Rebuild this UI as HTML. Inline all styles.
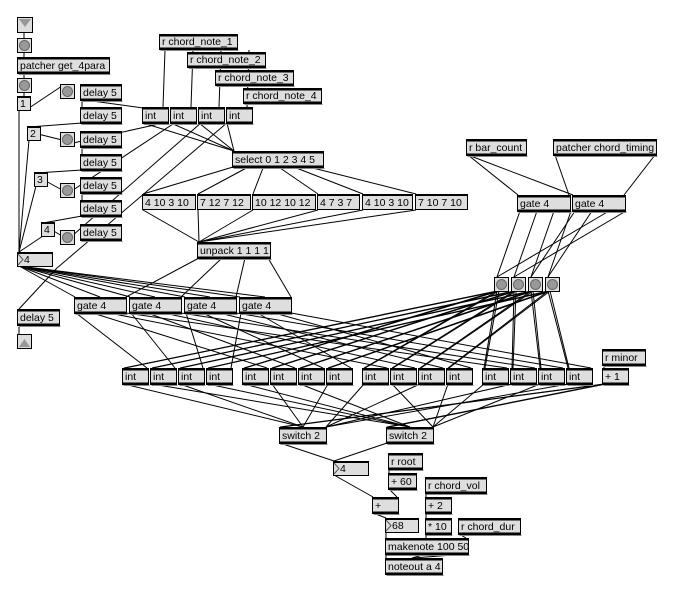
<!DOCTYPE html>
<html><head><meta charset="utf-8">
<style>
html,body{margin:0;padding:0;background:#fff;}
svg{display:block;}
text{font-family:"Liberation Sans",sans-serif;font-size:10.5px;fill:#000;}
.o,.m,.n{fill:#dedede;stroke:#000;stroke-width:1;}
</style></head><body>
<svg id="s" width="673" height="593" viewBox="0 0 673 593" xmlns="http://www.w3.org/2000/svg">
<g id="L" stroke="#000" stroke-width="1" fill="none"></g>
<g id="B">
<rect x="17.5" y="17.5" width="15" height="15" fill="#ddd" stroke="#000"/><path d="M19 19 L31 19 L25 27 Z" fill="#999"/>
<rect class="bt" x="17.5" y="38.5" width="14" height="14"/>
<rect class="o" x="17.5" y="57.5" width="92" height="16"/><text x="20" y="69">patcher get_4para</text>
<rect class="bt" x="17.5" y="78.5" width="14" height="14"/>
<rect class="m" x="17.5" y="96.5" width="13" height="14"/><text x="20" y="107">1</text>
<rect class="m" x="27.5" y="126.5" width="13" height="14"/><text x="30" y="137">2</text>
<rect class="m" x="34.5" y="172.5" width="13" height="14"/><text x="37" y="183">3</text>
<rect class="m" x="41.5" y="222.5" width="13" height="14"/><text x="44" y="233">4</text>
<rect class="bt" x="60.5" y="84.5" width="14" height="14"/>
<rect class="bt" x="60.5" y="132.5" width="14" height="14"/>
<rect class="bt" x="60.5" y="183.5" width="14" height="14"/>
<rect class="bt" x="60.5" y="230.5" width="14" height="14"/>
<rect class="o" x="80.5" y="84.5" width="41" height="16"/><text x="83" y="96">delay 5</text>
<rect class="o" x="80.5" y="107.5" width="41" height="16"/><text x="83" y="119">delay 5</text>
<rect class="o" x="80.5" y="131.5" width="41" height="16"/><text x="83" y="143">delay 5</text>
<rect class="o" x="80.5" y="154.5" width="41" height="16"/><text x="83" y="166">delay 5</text>
<rect class="o" x="80.5" y="177.5" width="41" height="16"/><text x="83" y="189">delay 5</text>
<rect class="o" x="80.5" y="200.5" width="41" height="16"/><text x="83" y="212">delay 5</text>
<rect class="o" x="80.5" y="224.5" width="41" height="16"/><text x="83" y="236">delay 5</text>
<rect class="n" x="17.5" y="252.5" width="35" height="14"/><path d="M18 254 L23 259.5 L18 265" fill="none" stroke="#555"/><text x="24" y="263">4</text>
<rect class="o" x="17.5" y="309.5" width="42" height="16"/><text x="20" y="321">delay 5</text>
<rect x="17.5" y="334.5" width="14" height="14" fill="#ddd" stroke="#000"/><path d="M19 347 L30 347 L24.5 339 Z" fill="#999"/>
<rect class="o" x="159.5" y="34.5" width="78" height="15"/><text x="162" y="45">r chord_note_1</text>
<rect class="o" x="187.5" y="52.5" width="78" height="15"/><text x="190" y="63">r chord_note_2</text>
<rect class="o" x="215.5" y="70.5" width="78" height="15"/><text x="218" y="81">r chord_note_3</text>
<rect class="o" x="243.5" y="88.5" width="78" height="15"/><text x="246" y="99">r chord_note_4</text>
<rect class="o" x="142.5" y="107.5" width="26" height="16"/><text x="145" y="119">int</text>
<rect class="o" x="170.5" y="107.5" width="26" height="16"/><text x="173" y="119">int</text>
<rect class="o" x="198.5" y="107.5" width="26" height="16"/><text x="201" y="119">int</text>
<rect class="o" x="226.5" y="107.5" width="26" height="16"/><text x="229" y="119">int</text>
<rect class="o" x="232.5" y="151.5" width="91" height="16"/><text x="235" y="163">select 0 1 2 3 4 5</text>
<rect class="m" x="142.5" y="194.5" width="53" height="15"/><text x="145" y="206">4 10 3 10</text>
<rect class="m" x="197.5" y="194.5" width="53" height="15"/><text x="200" y="206">7 12 7 12</text>
<rect class="m" x="252.5" y="194.5" width="63" height="15"/><text x="255" y="206">10 12 10 12</text>
<rect class="m" x="317.5" y="194.5" width="42" height="15"/><text x="320" y="206">4 7 3 7</text>
<rect class="m" x="362.5" y="194.5" width="50" height="15"/><text x="365" y="206">4 10 3 10</text>
<rect class="m" x="415.5" y="194.5" width="52" height="15"/><text x="418" y="206">7 10 7 10</text>
<rect class="o" x="197.5" y="242.5" width="73" height="16"/><text x="200" y="254">unpack 1 1 1 1</text>
<rect class="o" x="466.5" y="139.5" width="60" height="16"/><text x="469" y="151">r bar_count</text>
<rect class="o" x="553.5" y="139.5" width="103" height="16"/><text x="556" y="151">patcher chord_timing</text>
<rect class="o" x="517.5" y="195.5" width="53" height="16"/><text x="520" y="207">gate 4</text>
<rect class="o" x="572.5" y="195.5" width="53" height="16"/><text x="575" y="207">gate 4</text>
<rect class="bt" x="494.5" y="277.5" width="14" height="14"/>
<rect class="bt" x="511.5" y="277.5" width="14" height="14"/>
<rect class="bt" x="528.5" y="277.5" width="14" height="14"/>
<rect class="bt" x="545.5" y="277.5" width="14" height="14"/>
<rect class="o" x="74.5" y="297.5" width="52" height="16"/><text x="77" y="309">gate 4</text>
<rect class="o" x="129.5" y="297.5" width="52" height="16"/><text x="132" y="309">gate 4</text>
<rect class="o" x="184.5" y="297.5" width="52" height="16"/><text x="187" y="309">gate 4</text>
<rect class="o" x="239.5" y="297.5" width="52" height="16"/><text x="242" y="309">gate 4</text>
<rect class="o" x="122.5" y="368.5" width="26" height="16"/><text x="125" y="380">int</text>
<rect class="o" x="150.5" y="368.5" width="26" height="16"/><text x="153" y="380">int</text>
<rect class="o" x="178.5" y="368.5" width="26" height="16"/><text x="181" y="380">int</text>
<rect class="o" x="206.5" y="368.5" width="26" height="16"/><text x="209" y="380">int</text>
<rect class="o" x="242.5" y="368.5" width="26" height="16"/><text x="245" y="380">int</text>
<rect class="o" x="270.5" y="368.5" width="26" height="16"/><text x="273" y="380">int</text>
<rect class="o" x="298.5" y="368.5" width="26" height="16"/><text x="301" y="380">int</text>
<rect class="o" x="326.5" y="368.5" width="26" height="16"/><text x="329" y="380">int</text>
<rect class="o" x="362.5" y="368.5" width="26" height="16"/><text x="365" y="380">int</text>
<rect class="o" x="390.5" y="368.5" width="26" height="16"/><text x="393" y="380">int</text>
<rect class="o" x="418.5" y="368.5" width="26" height="16"/><text x="421" y="380">int</text>
<rect class="o" x="446.5" y="368.5" width="26" height="16"/><text x="449" y="380">int</text>
<rect class="o" x="482.5" y="368.5" width="26" height="16"/><text x="485" y="380">int</text>
<rect class="o" x="510.5" y="368.5" width="26" height="16"/><text x="513" y="380">int</text>
<rect class="o" x="538.5" y="368.5" width="26" height="16"/><text x="541" y="380">int</text>
<rect class="o" x="566.5" y="368.5" width="26" height="16"/><text x="569" y="380">int</text>
<rect class="o" x="602.5" y="349.5" width="43" height="16"/><text x="605" y="361">r minor</text>
<rect class="o" x="602.5" y="368.5" width="26" height="16"/><text x="605" y="380">+ 1</text>
<rect class="o" x="279.5" y="427.5" width="47" height="16"/><text x="282" y="439">switch 2</text>
<rect class="o" x="386.5" y="427.5" width="47" height="16"/><text x="389" y="439">switch 2</text>
<rect class="n" x="333.5" y="461.5" width="35" height="14"/><path d="M334 463 L339 468.5 L334 474" fill="none" stroke="#555"/><text x="340" y="472">4</text>
<rect class="o" x="388.5" y="453.5" width="34" height="16"/><text x="391" y="465">r root</text>
<rect class="o" x="388.5" y="473.5" width="28" height="16"/><text x="391" y="485">+ 60</text>
<rect class="o" x="425.5" y="477.5" width="61" height="16"/><text x="428" y="489">r chord_vol</text>
<rect class="o" x="372.5" y="497.5" width="26" height="16"/><text x="375" y="509">+</text>
<rect class="o" x="425.5" y="497.5" width="26" height="16"/><text x="428" y="509">+ 2</text>
<rect class="n" x="385.5" y="518.5" width="33" height="14"/><path d="M386 520 L391 525.5 L386 531" fill="none" stroke="#555"/><text x="392" y="529">68</text>
<rect class="o" x="425.5" y="518.5" width="26" height="16"/><text x="428" y="530">* 10</text>
<rect class="o" x="458.5" y="518.5" width="62" height="16"/><text x="461" y="530">r chord_dur</text>
<rect class="o" x="385.5" y="538.5" width="83" height="16"/><text x="388" y="550">makenote 100 50</text>
<rect class="o" x="385.5" y="558.5" width="57" height="16"/><text x="388" y="570">noteout a 4</text>
</g>
</svg>
<script>
(function(){
var NS="http://www.w3.org/2000/svg",L=document.getElementById("L"),B=document.getElementById("B");
function ln(a,b,c,d){var e=document.createElementNS(NS,"line");e.setAttribute("x1",a);e.setAttribute("y1",b);e.setAttribute("x2",c);e.setAttribute("y2",d);L.appendChild(e);}
function el(t,at,p){var e=document.createElementNS(NS,t);for(var k in at)e.setAttribute(k,at[k]);(p||B).appendChild(e);return e;}
Array.prototype.slice.call(document.querySelectorAll("rect.o")).forEach(function(r){
 var x=+r.getAttribute("x"),y=+r.getAttribute("y"),w=+r.getAttribute("width"),h=+r.getAttribute("height");
 el("rect",{x:x,y:y,width:w,height:2,fill:"#000"});
 el("rect",{x:x,y:y+h-2,width:w,height:2,fill:"#000"});
 el("line",{x1:x+1,y1:y+h+1,x2:x+w+1,y2:y+h+1,stroke:"#888"});
});
Array.prototype.slice.call(document.querySelectorAll("rect.m,rect.n")).forEach(function(r){
 var x=+r.getAttribute("x"),y=+r.getAttribute("y"),w=+r.getAttribute("width");
 el("rect",{x:x,y:y,width:w,height:1.5,fill:"#000"});
});
Array.prototype.slice.call(document.querySelectorAll("rect.bt")).forEach(function(r){
 var x=+r.getAttribute("x"),y=+r.getAttribute("y");
 r.setAttribute("fill","#ddd");r.setAttribute("stroke","#000");
 el("circle",{cx:x+7,cy:y+7,r:5,fill:"#999",stroke:"#666"});
});
ln(24,32,24,38);ln(24,52,24,57);ln(24,73,24,78);ln(24,92,24,96);
ln(19,110,19,252);ln(29,108,62,86);
ln(82,100,82,107);ln(82,123,29,127);ln(38,134,62,140);
ln(82,147,82,154);ln(82,170,36,173);ln(44,180,62,190);
ln(82,193,82,200);ln(82,216,43,223);ln(52,230,62,236);
ln(29,140,19,252);ln(36,186,19,252);ln(43,236,19,252);
ln(85,100,143,108);ln(64,145,168,122);ln(64,196,176,122);ln(64,243,202,122);ln(57,268,228,122);
ln(57,268,19,309);ln(19,325,19,334);
[[160,165],[188,193],[216,221],[244,249]].forEach(function(p){ln(p[0]+5,50,p[1]-2,107);});
[143,171,199,227].forEach(function(x){ln(x,123,234,151);});
var msg=[143,198,253,318,363,416];
for(var i=0;i<6;i++){ln(233+i*15.2,167,msg[i],194);ln(msg[i],210,199,242);}
var gx=[75,130,185,240];
for(i=0;i<4;i++){ln(199+i*23,258,gx[i]+51,297);}
gx.forEach(function(x){ln(19,266,x,297);ln(19,266,x+25,297);});
var base=[123,243,363,483];
for(var k=0;k<4;k++)for(var j=0;j<4;j++){ln(gx[k]+1+j*16.7,313,base[j]+k*28+24,368);}
var bx=[495,512,529,546];
for(j=0;j<4;j++)for(var g=0;g<4;g++){ln(bx[j]+2,291,base[g]+j*28+1,368);ln(bx[j]+4,291,base[g]+j*28+2,368);}
ln(468,155,518,195);ln(468,155,573,195);ln(555,155,569,195);ln(655,155,624,195);
[518,573].forEach(function(x,a){for(var o=0;o<4;o++){ln(x+2+o*17,211,bx[(o+a*2)%4]+2,277);}});
var sw=[280,387];
for(g=0;g<4;g++)for(k=0;k<4;k++){var x=base[g]+k*28+1;ln(x,384,sw[(k+g)%2]+(g<2?23:46),427);}
ln(604,384,280,427);ln(604,384,387,427);ln(606,384,282,427);ln(606,384,389,427);ln(604,365,604,368);
ln(280,443,334,461);ln(387,443,334,461);ln(334,475,373,497);
ln(389,469,389,473);ln(389,489,397,497);ln(373,513,386,518);ln(386,532,386,538);
ln(426,493,426,497);ln(426,513,426,518);ln(426,534,426,538);ln(459,534,466,538);
ln(386,554,386,558);ln(426,554,412,558);ln(466,554,413,558);
})();
</script>
</body></html>
